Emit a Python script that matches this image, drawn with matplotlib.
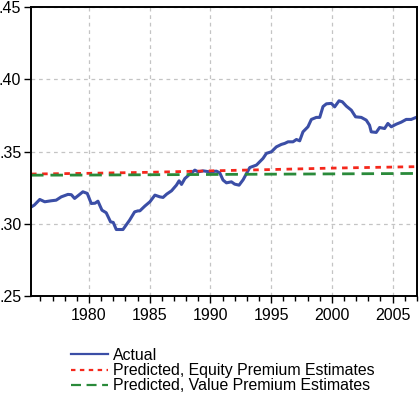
import numpy as np
import matplotlib.pyplot as plt
from matplotlib.ticker import MultipleLocator, FuncFormatter

plt.rcParams['font.family'] = ['Liberation Sans', 'DejaVu Sans']

# Actual series
actYears = [1975.23, 1975.5, 1975.95, 1976.36, 1976.9, 1977.3, 1977.72, 1978.27, 1978.55, 1978.82,
            1979.5, 1979.86, 1980.19, 1980.5, 1980.74, 1981.07, 1981.42, 1981.78, 1982.0, 1982.25,
            1982.8, 1983.35, 1983.76, 1984.03, 1984.19, 1984.6, 1985.02, 1985.43, 1985.84, 1986.1,
            1986.4, 1986.8, 1987.2, 1987.42, 1987.62, 1987.9, 1988.3, 1988.72, 1988.99, 1989.4,
            1989.95, 1990.5, 1990.77, 1991.04, 1991.32, 1991.73, 1992.0, 1992.36, 1992.69, 1993.24,
            1993.79, 1994.33, 1994.61, 1995.02, 1995.43, 1995.84, 1996.12, 1996.39, 1996.8, 1997.08,
            1997.35, 1997.62, 1998.03, 1998.31, 1998.72, 1999.0, 1999.27, 1999.55, 1999.96, 2000.23,
            2000.59, 2000.86, 2001.19, 2001.6, 2001.95, 2002.42, 2002.83, 2003.1, 2003.24, 2003.65,
            2003.93, 2004.34, 2004.61, 2004.89, 2005.3, 2005.71, 2006.12, 2006.53, 2006.94]
actVals = [0.3116, 0.3130, 0.3169, 0.3153, 0.3160, 0.3164, 0.3187, 0.3204, 0.3202, 0.3176,
           0.3222, 0.3211, 0.3141, 0.3143, 0.3157, 0.3095, 0.3077, 0.3014, 0.3010, 0.2961,
           0.2961, 0.3026, 0.3083, 0.3090, 0.3090, 0.3123, 0.3153, 0.3199, 0.3187, 0.3183,
           0.3206, 0.3229, 0.3268, 0.3298, 0.3273, 0.3314, 0.3344, 0.3372, 0.3360, 0.3367,
           0.3360, 0.3365, 0.3353, 0.3303, 0.3284, 0.3291, 0.3275, 0.3268, 0.3305, 0.3390,
           0.3407, 0.3453, 0.3488, 0.3499, 0.3533, 0.3550, 0.3557, 0.3568, 0.3568, 0.3584,
           0.3575, 0.3637, 0.3672, 0.3723, 0.3737, 0.3737, 0.3812, 0.3831, 0.3834, 0.3810,
           0.3852, 0.3845, 0.3815, 0.3787, 0.3741, 0.3737, 0.3718, 0.3683, 0.3637, 0.3633,
           0.3667, 0.3660, 0.3695, 0.3672, 0.3690, 0.3704, 0.3723, 0.3723, 0.3737]

predYears = [1975.23, 1980, 1985, 1990, 1995, 2000, 2006.94]
eqVals = [0.3345, 0.3350, 0.3357, 0.3367, 0.3376, 0.3386, 0.3396]
valVals = [0.3337, 0.3338, 0.3340, 0.3342, 0.3344, 0.3346, 0.3349]

fig = plt.figure(figsize=(4.19, 3.98), dpi=100)
ax = fig.add_axes([0.074, 0.256, 0.921, 0.726])

ax.plot(actYears, actVals, '-', color='#3b4ea6', lw=2.2, label='Actual')
ax.plot(predYears, eqVals, color='#f5281c', lw=2, ls=(0, (2, 2)), label='Predicted, Equity Premium Estimates')
ax.plot(predYears, valVals, color='#2a8a3a', lw=2, ls=(0, (4.5, 2.5)), label='Predicted, Value Premium Estimates')

ax.set_xlim(1975.23, 2007.0)
ax.set_ylim(0.25, 0.45)
ax.xaxis.set_major_locator(MultipleLocator(5))
ax.xaxis.set_minor_locator(MultipleLocator(1))
ax.yaxis.set_major_locator(MultipleLocator(0.05))
ax.yaxis.set_major_formatter(FuncFormatter(lambda v, p: ('%.2f' % v).lstrip('0')))
ax.grid(True, which='major', ls=(0, (3, 3)), color='#c4c4c4', lw=0.9)
ax.tick_params(axis='both', which='major', labelsize=11.5, length=5, width=1, direction='out')
ax.tick_params(axis='x', which='minor', length=3.5, width=1)
ax.tick_params(axis='y', pad=2)
for s in ax.spines.values():
    s.set_linewidth(1.4)

leg = fig.legend(loc='upper left', bbox_to_anchor=(0.155, 0.142), frameon=False, fontsize=11.4,
                 handlelength=2.3, handletextpad=0.35, labelspacing=0.02, borderaxespad=0)
for h in leg.get_lines():
    h.set_linewidth(1.6)

fig.savefig('out.png', dpi=100)
